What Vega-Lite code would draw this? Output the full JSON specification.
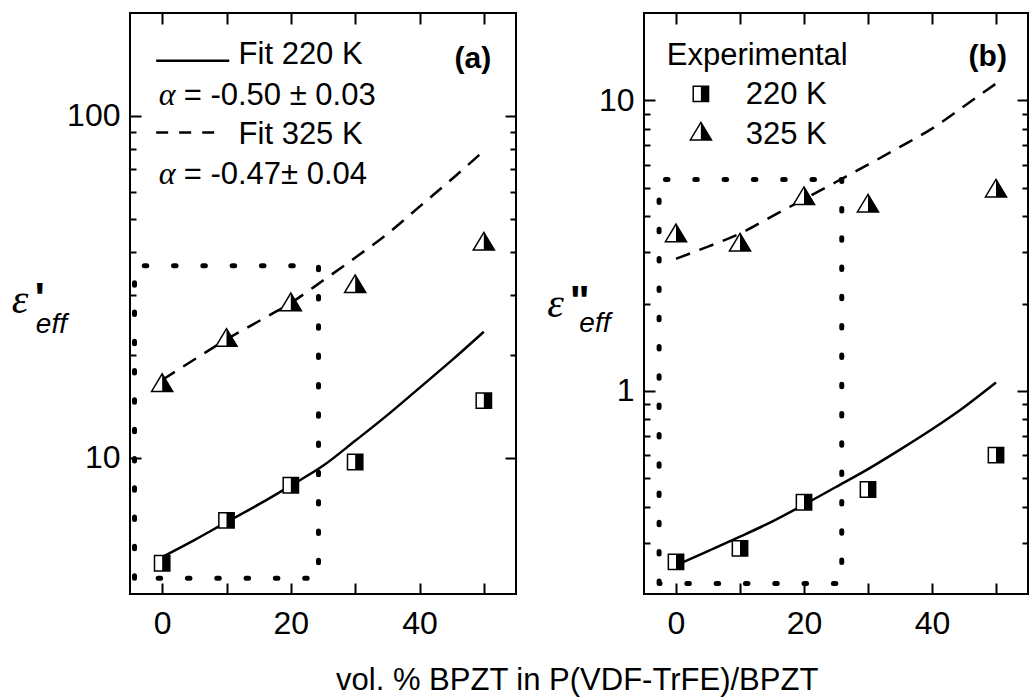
{
 "$schema": "https://vega.github.io/schema/vega-lite/v6.json",
 "autosize": {"type": "none"},
 "padding": {"left": 130, "top": 13, "right": 903, "bottom": 685},
 "background": "white",
 "spacing": 128,
 "bounds": "flush",
 "config": {
  "view": {"stroke": "black", "strokeWidth": 2},
  "font": "Liberation Sans",
  "axis": {"grid": false, "domain": false, "ticks": true, "tickColor": "black", "tickWidth": 2, "labelColor": "black", "labelFont": "Liberation Sans", "labelFontSize": 32, "labelFlush": false, "labelOverlap": false, "labelBound": false}
 },
 "datasets": {
  "sqA": [{"x": 0, "y": 4.92}, {"x": 10, "y": 6.57}, {"x": 20, "y": 8.32}, {"x": 30, "y": 9.73}, {"x": 50, "y": 14.7}],
  "trA": [{"x": 0, "y": 16.6}, {"x": 10, "y": 22.5}, {"x": 20, "y": 28.6}, {"x": 30, "y": 32.3}, {"x": 50, "y": 43.0}],
  "sqB": [{"x": 0, "y": 0.258}, {"x": 10, "y": 0.287}, {"x": 20, "y": 0.414}, {"x": 30, "y": 0.458}, {"x": 50, "y": 0.601}],
  "trB": [{"x": 0, "y": 3.5}, {"x": 10, "y": 3.25}, {"x": 20, "y": 4.70}, {"x": 30, "y": 4.43}, {"x": 50, "y": 4.99}],
  "fitA220": [{"x": 0, "y": 5.13}, {"x": 5, "y": 5.75}, {"x": 10, "y": 6.49}, {"x": 15, "y": 7.31}, {"x": 20, "y": 8.30}, {"x": 25, "y": 9.48}, {"x": 30, "y": 11.22}, {"x": 35, "y": 13.34}, {"x": 40, "y": 16.03}, {"x": 45, "y": 19.28}, {"x": 50, "y": 23.39}],
  "fitA325": [{"x": 0, "y": 16.9}, {"x": 5, "y": 19.4}, {"x": 10, "y": 22.2}, {"x": 15, "y": 25.1}, {"x": 20, "y": 28.4}, {"x": 25, "y": 33.0}, {"x": 30, "y": 38.5}, {"x": 35, "y": 45.2}, {"x": 40, "y": 54.3}, {"x": 45, "y": 65.3}, {"x": 50, "y": 79.1}],
  "fitB220": [{"x": 0, "y": 0.251}, {"x": 5, "y": 0.281}, {"x": 10, "y": 0.315}, {"x": 15, "y": 0.355}, {"x": 20, "y": 0.406}, {"x": 25, "y": 0.467}, {"x": 30, "y": 0.538}, {"x": 35, "y": 0.628}, {"x": 40, "y": 0.738}, {"x": 45, "y": 0.879}, {"x": 50, "y": 1.069}],
  "fitB325": [{"x": 0, "y": 2.85}, {"x": 5, "y": 3.14}, {"x": 10, "y": 3.48}, {"x": 15, "y": 3.99}, {"x": 20, "y": 4.57}, {"x": 25, "y": 5.24}, {"x": 30, "y": 6.01}, {"x": 35, "y": 6.92}, {"x": 40, "y": 8.0}, {"x": 45, "y": 9.55}, {"x": 50, "y": 11.43}],
  "boxA": [{"o": 1, "x": -4.3, "y": 4.45}, {"o": 2, "x": -4.3, "y": 36.5}, {"o": 3, "x": 24.3, "y": 36.5}, {"o": 4, "x": 24.3, "y": 4.45}, {"o": 5, "x": -4.3, "y": 4.45}],
  "boxB": [{"o": 1, "x": -2.64, "y": 0.2175}, {"o": 2, "x": -2.64, "y": 5.34}, {"o": 3, "x": 25.9, "y": 5.34}, {"o": 4, "x": 25.9, "y": 0.2175}, {"o": 5, "x": -2.64, "y": 0.2175}]
 },
 "hconcat": [
  {
   "width": 386, "height": 581,
   "encoding": {
    "x": {"field": "x", "type": "quantitative", "scale": {"domain": [-5, 55], "nice": false, "zero": false}, "axis": null},
    "y": {"field": "y", "type": "quantitative", "scale": {"type": "log", "domain": [4, 200], "nice": false}, "axis": null}
   },
   "resolve": {"axis": {"x": "independent", "y": "independent"}},
   "layer": [
    {"data": {"name": "boxA"},
     "mark": {"type": "line", "color": "black", "strokeWidth": 5, "strokeDash": [2.5, 26.8], "strokeCap": "round"},
     "encoding": {"order": {"field": "o", "type": "quantitative"}}},
    {"data": {"name": "fitA220"},
     "mark": {"type": "line", "color": "black", "strokeWidth": 2.5, "interpolate": "monotone"},
     "encoding": {
      "x": {"field": "x", "type": "quantitative", "scale": {"domain": [-5, 55], "nice": false, "zero": false},
            "axis": {"orient": "bottom", "title": null, "values": [0, 10, 20, 30, 40, 50], "labelExpr": "datum.value % 20 === 0 ? datum.label : ''", "tickSize": -11, "labelPadding": 25}},
      "y": {"field": "y", "type": "quantitative", "scale": {"type": "log", "domain": [4, 200], "nice": false},
            "axis": {"orient": "left", "title": null, "values": [10, 20, 30, 40, 50, 60, 70, 80, 90, 100], "labelExpr": "datum.value == 10 ? '10' : datum.value == 100 ? '100' : ''", "tickSize": {"condition": {"test": "datum.value == 10 || datum.value == 100", "value": -11}, "value": -6}, "labelPadding": 21}}
     }},
    {"data": {"name": "fitA325"},
     "mark": {"type": "line", "color": "black", "strokeWidth": 2.5, "strokeDash": [15, 10], "interpolate": "monotone"},
     "encoding": {
      "x": {"field": "x", "type": "quantitative", "scale": {"domain": [-5, 55], "nice": false, "zero": false},
            "axis": {"orient": "top", "title": null, "values": [0, 10, 20, 30, 40, 50], "labels": false, "tickSize": -11}},
      "y": {"field": "y", "type": "quantitative", "scale": {"type": "log", "domain": [4, 200], "nice": false},
            "axis": {"orient": "right", "title": null, "values": [10, 20, 30, 40, 50, 60, 70, 80, 90, 100], "labels": false, "tickSize": {"condition": {"test": "datum.value == 10 || datum.value == 100", "value": -11}, "value": -6}}}
     }},
    {"data": {"values": [{"x": -0.93, "y": 145}, {"x": 10.43, "y": 145}]},
     "mark": {"type": "line", "color": "black", "strokeWidth": 2.5}},
    {"data": {"values": [{"x": -0.93, "y": 89.4}, {"x": 8.62, "y": 89.4}]},
     "mark": {"type": "line", "color": "black", "strokeWidth": 2.5, "strokeDash": [12, 11]}},
    {"data": {"name": "sqA"},
     "mark": {"type": "point", "shape": "M-1,-1L1,-1L1,1L-1,1Z", "filled": true, "fill": "white", "stroke": "black", "strokeWidth": 1.5, "size": 235, "opacity": 1}},
    {"data": {"name": "sqA"},
     "mark": {"type": "point", "shape": "M0,-1L1,-1L1,1L0,1Z", "filled": true, "fill": "black", "strokeWidth": 0, "size": 235, "opacity": 1}},
    {"data": {"name": "trA"},
     "mark": {"type": "point", "shape": "M0,-1.15L1.38,1.15L-1.38,1.15Z", "filled": true, "fill": "white", "stroke": "black", "strokeWidth": 1.5, "size": 235, "opacity": 1}},
    {"data": {"name": "trA"},
     "mark": {"type": "point", "shape": "M0,-1.15L1.38,1.15L0,1.15Z", "filled": true, "fill": "black", "strokeWidth": 0, "size": 235, "opacity": 1}},
    {"data": {"values": [{"x": 11.88, "y": 141.8, "label": "Fit 220 K"}, {"x": 11.88, "y": 82.6, "label": "Fit 325 K"}, {"x": 3.35, "y": 107.5, "label": "= -0.50 ± 0.03"}, {"x": 3.35, "y": 63.06, "label": "= -0.47± 0.04"}]},
     "mark": {"type": "text", "align": "left", "baseline": "alphabetic", "font": "Liberation Sans", "fontSize": 31, "fill": "black"},
     "encoding": {"text": {"field": "label"}}},
    {"data": {"values": [{"x": -0.53, "y": 107.5, "label": "α"}, {"x": -0.53, "y": 63.06, "label": "α"}]},
     "mark": {"type": "text", "align": "left", "baseline": "alphabetic", "font": "Liberation Serif", "fontStyle": "italic", "fontSize": 32, "fill": "black"},
     "encoding": {"text": {"field": "label"}}},
    {"data": {"values": [{"x": 51.16, "y": 138.3, "label": "(a)"}]},
     "mark": {"type": "text", "align": "right", "baseline": "alphabetic", "font": "Liberation Sans", "fontWeight": "bold", "fontSize": 30, "fill": "black"},
     "encoding": {"text": {"field": "label"}}},
    {"data": {"values": [{"x": -23.4, "y": 26.5, "label": "ε"}]},
     "mark": {"type": "text", "align": "left", "baseline": "alphabetic", "font": "Liberation Serif", "fontStyle": "italic", "fontSize": 42, "fill": "black"},
     "encoding": {"text": {"field": "label"}}},
    {"data": {"values": [{"x": -19.8, "y": 26.8, "label": "'"}]},
     "mark": {"type": "text", "align": "left", "baseline": "alphabetic", "font": "Liberation Sans", "fontWeight": "bold", "fontSize": 42, "fill": "black"},
     "encoding": {"text": {"field": "label"}}},
    {"data": {"values": [{"x": -19.64, "y": 23.2, "label": "eff"}]},
     "mark": {"type": "text", "align": "left", "baseline": "alphabetic", "font": "Liberation Sans", "fontStyle": "italic", "fontSize": 28, "fill": "black"},
     "encoding": {"text": {"field": "label"}}}
   ]
  },
  {
   "width": 384, "height": 581,
   "encoding": {
    "x": {"field": "x", "type": "quantitative", "scale": {"domain": [-5, 55], "nice": false, "zero": false}, "axis": null},
    "y": {"field": "y", "type": "quantitative", "scale": {"type": "log", "domain": [0.2, 20], "nice": false}, "axis": null}
   },
   "resolve": {"axis": {"x": "independent", "y": "independent"}},
   "layer": [
    {"data": {"name": "boxB"},
     "mark": {"type": "line", "color": "black", "strokeWidth": 5, "strokeDash": [2.5, 26.8], "strokeCap": "round"},
     "encoding": {"order": {"field": "o", "type": "quantitative"}}},
    {"data": {"name": "fitB220"},
     "mark": {"type": "line", "color": "black", "strokeWidth": 2.5, "interpolate": "monotone"},
     "encoding": {
      "x": {"field": "x", "type": "quantitative", "scale": {"domain": [-5, 55], "nice": false, "zero": false},
            "axis": {"orient": "bottom", "title": null, "values": [0, 10, 20, 30, 40, 50], "labelExpr": "datum.value % 20 === 0 ? datum.label : ''", "tickSize": -11, "labelPadding": 25}},
      "y": {"field": "y", "type": "quantitative", "scale": {"type": "log", "domain": [0.2, 20], "nice": false},
            "axis": {"orient": "left", "title": null, "values": [0.3, 0.4, 0.5, 0.6, 0.7, 0.8, 0.9, 1, 2, 3, 4, 5, 6, 7, 8, 9, 10], "labelExpr": "datum.value == 1 ? '1' : datum.value == 10 ? '10' : ''", "tickSize": {"condition": {"test": "datum.value == 1 || datum.value == 10", "value": -11}, "value": -6}, "labelPadding": 21}}
     }},
    {"data": {"name": "fitB325"},
     "mark": {"type": "line", "color": "black", "strokeWidth": 2.5, "strokeDash": [15, 10], "interpolate": "monotone"},
     "encoding": {
      "x": {"field": "x", "type": "quantitative", "scale": {"domain": [-5, 55], "nice": false, "zero": false},
            "axis": {"orient": "top", "title": null, "values": [0, 10, 20, 30, 40, 50], "labels": false, "tickSize": -11}},
      "y": {"field": "y", "type": "quantitative", "scale": {"type": "log", "domain": [0.2, 20], "nice": false},
            "axis": {"orient": "right", "title": null, "values": [0.3, 0.4, 0.5, 0.6, 0.7, 0.8, 0.9, 1, 2, 3, 4, 5, 6, 7, 8, 9, 10], "labels": false, "tickSize": {"condition": {"test": "datum.value == 1 || datum.value == 10", "value": -11}, "value": -6}}}
     }},
    {"data": {"name": "sqB"},
     "mark": {"type": "point", "shape": "M-1,-1L1,-1L1,1L-1,1Z", "filled": true, "fill": "white", "stroke": "black", "strokeWidth": 1.5, "size": 235, "opacity": 1}},
    {"data": {"name": "sqB"},
     "mark": {"type": "point", "shape": "M0,-1L1,-1L1,1L0,1Z", "filled": true, "fill": "black", "strokeWidth": 0, "size": 235, "opacity": 1}},
    {"data": {"name": "trB"},
     "mark": {"type": "point", "shape": "M0,-1.15L1.38,1.15L-1.38,1.15Z", "filled": true, "fill": "white", "stroke": "black", "strokeWidth": 1.5, "size": 235, "opacity": 1}},
    {"data": {"name": "trB"},
     "mark": {"type": "point", "shape": "M0,-1.15L1.38,1.15L0,1.15Z", "filled": true, "fill": "black", "strokeWidth": 0, "size": 235, "opacity": 1}},
    {"data": {"values": [{"x": 3.89, "y": 10.54}]},
     "mark": {"type": "point", "shape": "M-1,-1L1,-1L1,1L-1,1Z", "filled": true, "fill": "white", "stroke": "black", "strokeWidth": 1.5, "size": 235, "opacity": 1}},
    {"data": {"values": [{"x": 3.89, "y": 10.54}]},
     "mark": {"type": "point", "shape": "M0,-1L1,-1L1,1L0,1Z", "filled": true, "fill": "black", "strokeWidth": 0, "size": 235, "opacity": 1}},
    {"data": {"values": [{"x": 3.89, "y": 7.84}]},
     "mark": {"type": "point", "shape": "M0,-1.15L1.38,1.15L-1.38,1.15Z", "filled": true, "fill": "white", "stroke": "black", "strokeWidth": 1.5, "size": 235, "opacity": 1}},
    {"data": {"values": [{"x": 3.89, "y": 7.84}]},
     "mark": {"type": "point", "shape": "M0,-1.15L1.38,1.15L0,1.15Z", "filled": true, "fill": "black", "strokeWidth": 0, "size": 235, "opacity": 1}},
    {"data": {"values": [{"x": -1.45, "y": 13.2, "label": "Experimental"}, {"x": 10.89, "y": 9.69, "label": "220 K"}, {"x": 10.89, "y": 7.1, "label": "325 K"}]},
     "mark": {"type": "text", "align": "left", "baseline": "alphabetic", "font": "Liberation Sans", "fontSize": 31, "fill": "black"},
     "encoding": {"text": {"field": "label"}}},
    {"data": {"values": [{"x": 51.7, "y": 13.15, "label": "(b)"}]},
     "mark": {"type": "text", "align": "right", "baseline": "alphabetic", "font": "Liberation Sans", "fontWeight": "bold", "fontSize": 30, "fill": "black"},
     "encoding": {"text": {"field": "label"}}},
    {"data": {"values": [{"x": -15.44, "y": 0.0934, "label": "vol. % BPZT in P(VDF-TrFE)/BPZT"}]},
     "mark": {"type": "text", "align": "center", "baseline": "alphabetic", "font": "Liberation Sans", "fontSize": 31, "fill": "black"},
     "encoding": {"text": {"field": "label"}}},
    {"data": {"values": [{"x": -20.1, "y": 1.80, "label": "ε"}]},
     "mark": {"type": "text", "align": "left", "baseline": "alphabetic", "font": "Liberation Serif", "fontStyle": "italic", "fontSize": 42, "fill": "black"},
     "encoding": {"text": {"field": "label"}}},
    {"data": {"values": [{"x": -16.6, "y": 1.83, "label": "\""}]},
     "mark": {"type": "text", "align": "left", "baseline": "alphabetic", "font": "Liberation Sans", "fontWeight": "bold", "fontSize": 42, "fill": "black"},
     "encoding": {"text": {"field": "label"}}},
    {"data": {"values": [{"x": -15.1, "y": 1.596, "label": "eff"}]},
     "mark": {"type": "text", "align": "left", "baseline": "alphabetic", "font": "Liberation Sans", "fontStyle": "italic", "fontSize": 28, "fill": "black"},
     "encoding": {"text": {"field": "label"}}}
   ]
  }
 ]
}
